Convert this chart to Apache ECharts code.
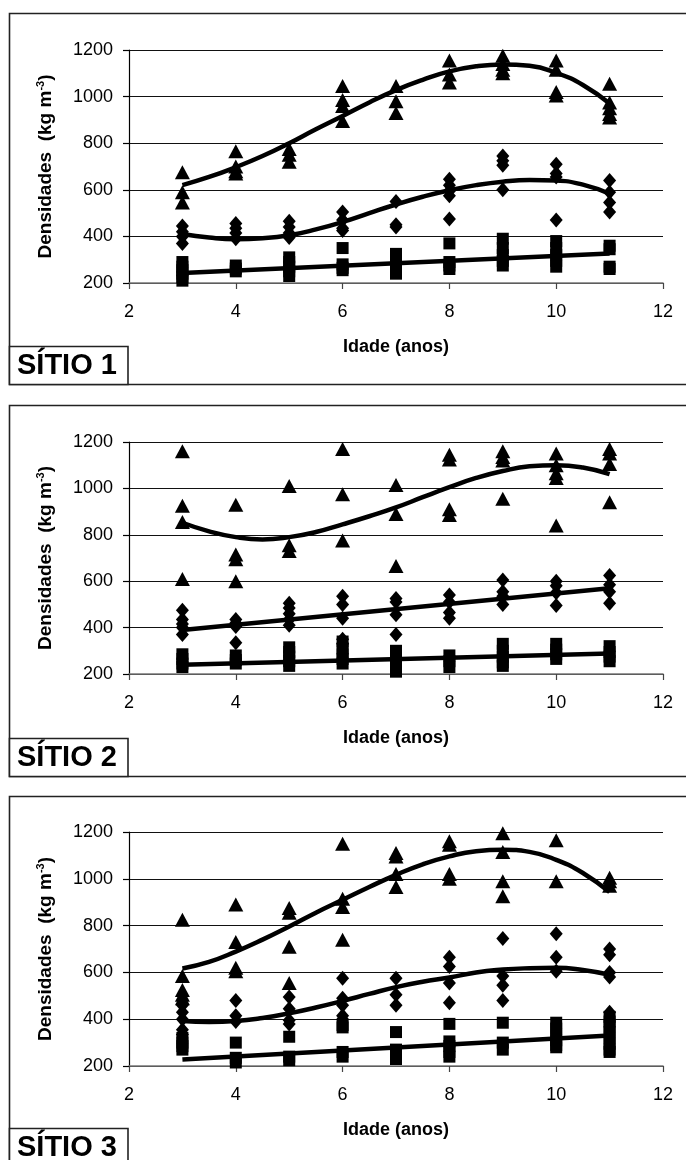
<!DOCTYPE html>
<html>
<head>
<meta charset="utf-8">
<script src="https://cdn.jsdelivr.net/npm/echarts@6/dist/echarts.min.js"></script>
<style>
html,body{margin:0;padding:0;background:#fff;}
#c{width:686px;height:1160px;}
</style>
</head>
<body>
<div id="c"></div>
<script>
// ---- data ----
const ages = [3, 4, 5, 6, 7, 8, 9, 10, 11];
const xTicks = [2, 4, 6, 8, 10, 12];
const yTicks = [200, 400, 600, 800, 1000, 1200];
const siteLabels = ['SÍTIO 1', 'SÍTIO 2', 'SÍTIO 3'];

// Site 1 observations (per age)
const s1Tri = [[675, 590, 545], [765, 700, 680, 670], [775, 750, 720], [1045, 985, 960, 895], [1045, 980, 930], [1155, 1095, 1060], [1175, 1140, 1115, 1100], [1155, 1115, 1020, 1005], [1055, 975, 950, 925, 910]];
const s1Dia = [[445, 420, 400, 370], [455, 435, 415, 390], [465, 440, 415, 395], [505, 470, 435, 425], [550, 450, 440], [645, 620, 595, 575, 475], [745, 725, 705, 600], [710, 670, 655, 470], [640, 590, 545, 505]];
const s1Sq = [[290, 270, 255, 240, 225, 210], [275, 262, 250], [310, 290, 270, 250, 230], [350, 280, 265, 255], [325, 300, 280, 260, 240], [370, 290, 275, 260], [390, 350, 320, 295, 275], [380, 350, 320, 295, 270], [360, 345, 270, 260]];

// Site 2 observations
const s2Tri = [[1160, 925, 855, 610], [930, 715, 695, 600], [1010, 755, 730], [1170, 975, 775], [1015, 890, 665], [1145, 1125, 910, 885], [1160, 1135, 1120, 955], [1150, 1100, 1065, 1045, 840], [1170, 1150, 1105, 940]];
const s2Dia = [[475, 435, 415, 400, 370], [435, 420, 405, 335], [505, 485, 460, 435, 410], [535, 500, 440, 350, 330], [525, 510, 455, 370], [540, 510, 465, 440], [605, 555, 535, 500], [600, 580, 550, 495], [625, 585, 555, 505]];
const s2Sq = [[285, 265, 245, 230], [280, 260, 245], [315, 295, 275, 255, 235], [340, 310, 285, 265, 245], [300, 275, 250, 230, 210], [280, 255, 230], [330, 300, 275, 250, 235], [330, 305, 285, 265], [320, 295, 275, 255]];

// Site 3 observations
const s3Tri = [[825, 585, 525, 505, 490], [890, 730, 620, 605], [875, 855, 710, 555], [1150, 915, 880, 740], [1110, 1095, 1020, 965], [1160, 1145, 1020, 1000], [1195, 1115, 990, 925], [1165, 990], [1005, 990, 970]];
const s3Dia = [[460, 430, 400, 355, 335], [480, 415, 390], [495, 445, 395, 380], [575, 490, 460, 415, 400], [575, 505, 460], [665, 625, 555, 470], [745, 585, 545, 480], [765, 665, 605], [700, 675, 600, 580, 430]];
const s3Sq = [[320, 300, 285, 270], [300, 235, 215], [325, 240, 225], [375, 365, 260, 240], [345, 270, 250, 230], [380, 305, 285, 260, 240], [385, 300, 270], [385, 360, 335, 310, 290, 280], [410, 390, 370, 345, 320, 295, 270, 260]];

// Fitted trend curves
const fitX = [3, 3.5, 4, 4.5, 5, 5.5, 6, 6.5, 7, 7.5, 8, 8.5, 9, 9.5, 10, 10.5, 11];
const s1TriFit = [620, 655, 697, 745, 800, 860, 917, 975, 1028, 1072, 1108, 1130, 1138, 1132, 1102, 1050, 970];
const s1DiaFit = [410, 395, 388, 392, 405, 430, 462, 500, 537, 570, 598, 620, 635, 642, 640, 622, 583];
const s2TriFit = [852, 815, 790, 780, 790, 812, 845, 880, 918, 962, 1005, 1045, 1075, 1095, 1100, 1090, 1062];
const s3TriFit = [617, 645, 689, 740, 796, 855, 910, 965, 1017, 1062, 1096, 1118, 1124, 1115, 1081, 1025, 943];
const s3DiaFit = [392, 388, 392, 405, 425, 450, 478, 508, 537, 560, 578, 600, 612, 618, 620, 610, 590];
const linX = [3, 11];
const s1SqFit = [243, 327];
const s2DiaFit = [390, 570];
const s2SqFit = [240, 288];
const s3SqFit = [228, 330];

// ---- build ----
const panels = [
  {tri: s1Tri, dia: s1Dia, sq: s1Sq, fits: [[fitX, s1TriFit], [fitX, s1DiaFit], [linX, s1SqFit]]},
  {tri: s2Tri, dia: s2Dia, sq: s2Sq, fits: [[fitX, s2TriFit], [linX, s2DiaFit], [linX, s2SqFit]]},
  {tri: s3Tri, dia: s3Dia, sq: s3Sq, fits: [[fitX, s3TriFit], [fitX, s3DiaFit], [linX, s3SqFit]]}
];
const gridDefs = [
  {top: 50, height: 233},
  {top: 442, height: 232},
  {top: 832, height: 234}
];
const frames = [
  {top: 13, bottom: 384, boxTop: 346},
  {top: 405, bottom: 776, boxTop: 738},
  {top: 796, bottom: 1175, boxTop: 1128}
];
const FONT = '"Liberation Sans", Arial, Helvetica, sans-serif';

function pts(ob) {
  const out = [];
  ob.forEach((vals, i) => vals.forEach(v => out.push([ages[i], v])));
  return out;
}

const grids = [], xAxes = [], yAxes = [], series = [], graphics = [];
gridDefs.forEach((g, i) => {
  grids.push({left: 129, right: 23, top: g.top, height: g.height, containLabel: false});
  xAxes.push({
    type: 'value', gridIndex: i, min: xTicks[0], max: xTicks[xTicks.length - 1], interval: 2,
    name: 'Idade (anos)', nameLocation: 'middle', nameGap: 55,
    nameTextStyle: {fontFamily: FONT, fontSize: 18, fontWeight: 'bold', color: '#000'},
    axisLine: {lineStyle: {color: '#777', width: 1.5}},
    axisTick: {show: true, length: 6, lineStyle: {color: '#444', width: 1.2}},
    axisLabel: {fontFamily: FONT, fontSize: 18, color: '#000', margin: 20, formatter: v => String(v)},
    splitLine: {show: false}
  });
  yAxes.push({
    type: 'value', gridIndex: i, min: yTicks[0], max: yTicks[yTicks.length - 1], interval: 200,
    name: '{b|Densidades  (kg m}{s|-3}{b|)}', nameLocation: 'middle', nameGap: 72,
    nameTextStyle: {
      fontFamily: FONT, color: '#000',
      rich: {
        b: {fontFamily: FONT, fontSize: 19, fontWeight: 'bold', color: '#000', lineHeight: 22},
        s: {fontFamily: FONT, fontSize: 11, fontWeight: 'bold', color: '#000', lineHeight: 22, verticalAlign: 'top', padding: [0, 0, 8, 0]}
      }
    },
    axisLine: {show: true, lineStyle: {color: '#000', width: 1.2}},
    axisTick: {show: true, length: 6, lineStyle: {color: '#000', width: 1.2}},
    axisLabel: {fontFamily: FONT, fontSize: 18, color: '#000', margin: 16, formatter: v => String(v)},
    splitLine: {show: true, lineStyle: {color: '#111', width: 1.2}}
  });
  const p = panels[i];
  const common = {type: 'scatter', xAxisIndex: i, yAxisIndex: i, itemStyle: {color: '#000', opacity: 1}, z: 3};
  series.push(Object.assign({}, common, {symbol: 'triangle', symbolSize: [15, 14], data: pts(p.tri)}));
  series.push(Object.assign({}, common, {symbol: 'diamond', symbolSize: [13, 15], data: pts(p.dia)}));
  series.push(Object.assign({}, common, {symbol: 'rect', symbolSize: [12, 12], data: pts(p.sq)}));
  p.fits.forEach(f => {
    series.push({
      type: 'line', xAxisIndex: i, yAxisIndex: i, smooth: f[0].length > 2 ? 0.5 : false,
      showSymbol: false, symbol: 'none', lineStyle: {color: '#000', width: 4.5}, z: 4,
      data: f[0].map((x, k) => [x, f[1][k]])
    });
  });
  const fr = frames[i];
  graphics.push({
    type: 'rect', z: -10, silent: true,
    shape: {x: 9.5, y: fr.top + 0.5, width: 700, height: fr.bottom - fr.top},
    style: {fill: 'none', stroke: '#222', lineWidth: 1.6}
  });
  graphics.push({
    type: 'rect', z: 10, silent: true,
    shape: {x: 9.5, y: fr.boxTop + 0.5, width: 118.5, height: fr.bottom - fr.boxTop},
    style: {fill: '#fff', stroke: '#222', lineWidth: 1.6}
  });
  graphics.push({
    type: 'text', z: 11, silent: true,
    style: {x: 17, y: fr.boxTop + 20, text: siteLabels[i], fontFamily: FONT, fontSize: 29, fontWeight: 'bold', fill: '#000', textVerticalAlign: 'middle', verticalAlign: 'middle'}
  });
});

const chart = echarts.init(document.getElementById('c'), null, {renderer: 'canvas'});
chart.setOption({
  animation: false,
  backgroundColor: '#fff',
  grid: grids,
  xAxis: xAxes,
  yAxis: yAxes,
  series: series,
  graphic: graphics
});
</script>
</body>
</html>
